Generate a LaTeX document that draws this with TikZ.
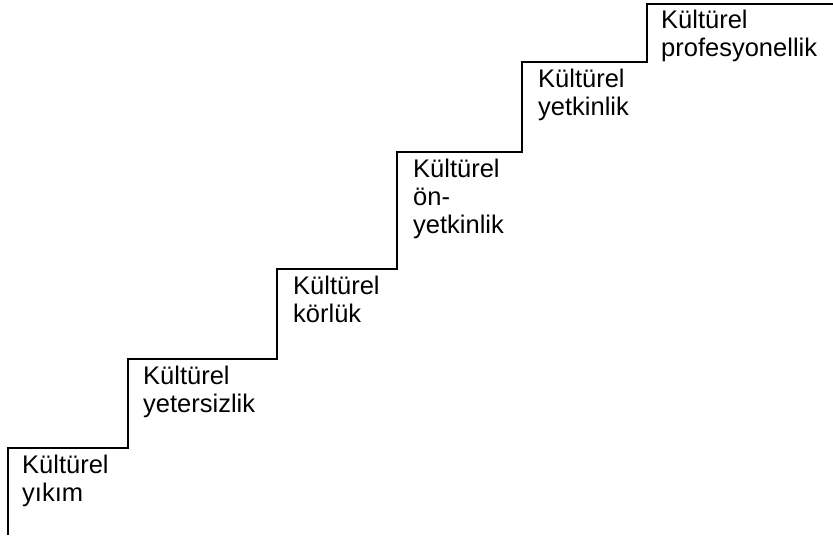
\documentclass[tikz,border=0pt]{standalone}
\usepackage{fontspec}
\setmainfont{Liberation Sans}
\begin{document}
\begin{tikzpicture}[x=1pt,y=-1pt,
  stair/.style={line width=2pt,line join=miter},
  lbl/.style={anchor=north west,inner sep=0pt,align=left,font=\fontsize{25.5}{28}\selectfont}]
\useasboundingbox (0,0) rectangle (833,539);
\draw[stair] (8,535) -- (8,448) -- (128,448) -- (128,359) -- (277,359) -- (277,269) -- (397,269) -- (397,152) -- (522,152) -- (522,62) -- (647,62) -- (647,4) -- (833,4);
\node[lbl] (s1) at (22,455) {Kültürel\\yıkım};
\node[lbl] (s2) at (143,366) {Kültürel\\yetersizlik};
\node[lbl] (s3) at (293,276) {Kültürel\\körlük};
\node[lbl] (s4) at (413,159) {Kültürel\\ön-\\yetkinlik};
\node[lbl] (s5) at (538,69) {Kültürel\\yetkinlik};
\node[lbl] (s6) at (661,10) {Kültürel\\profesyonellik};
\end{tikzpicture}
\end{document}
